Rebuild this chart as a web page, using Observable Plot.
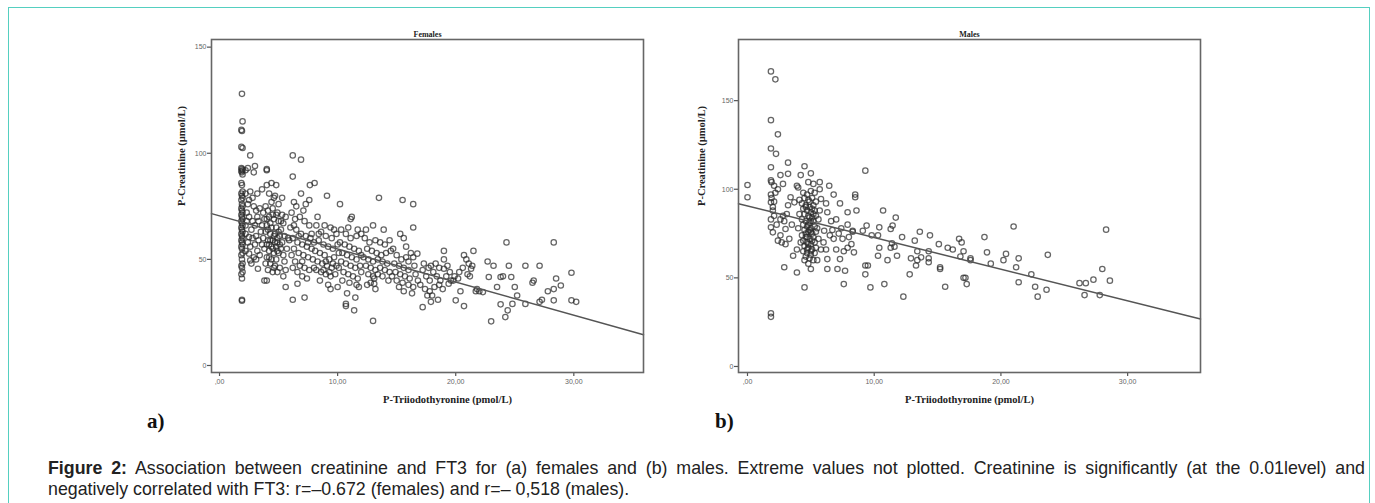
<!DOCTYPE html>
<html>
<head>
<meta charset="utf-8">
<script src="https://cdn.jsdelivr.net/npm/d3@7"></script>
<script src="https://cdn.jsdelivr.net/npm/@observablehq/plot@0.6"></script>
<style>
  html, body { margin: 0; padding: 0; background: #fff; width: 1375px; height: 503px; overflow: hidden; }
  #box { position: absolute; left: 8px; top: 7px; width: 1362px; height: 520px; border: 1.5px solid #55cfc0; box-sizing: border-box; }
  .panel { position: absolute; top: 20px; }
  .tag { position: absolute; top: 409px; font-family: "Liberation Serif", "DejaVu Serif", serif; font-weight: bold; font-size: 21px; color: #111; }
  #caption { position: absolute; left: 48px; top: 458px; width: 1317px; font-family: "Liberation Sans", Arial, sans-serif; font-size: 17.8px; line-height: 21px; color: #222; }
  #caption .l1 { text-align: justify; text-align-last: justify; }
</style>
</head>
<body>
<div id="box"></div>
<div id="left" class="panel" style="left:150px"></div>
<div id="right" class="panel" style="left:690px"></div>
<div class="tag" style="left:147px">a)</div>
<div class="tag" style="left:715px">b)</div>
<div id="caption">
  <div class="l1"><b>Figure 2:</b> Association between creatinine and FT3 for (a) females and (b) males. Extreme values not plotted. Creatinine is significantly (at the 0.01level) and</div>
  <div class="l2">negatively correlated with FT3: r=–0.672 (females) and r=– 0,518 (males).</div>
</div>
<script>
// ---- Data ----
const panelTitles = ["Females", "Males"];
const xLabel = "P-Triiodothyronine (pmol/L)";
const yLabel = "P-Creatinine (µmol/L)";
const xTicks = [0, 10, 20, 30];
const yTicks = [0, 50, 100, 150];
// regression lines: [intercept, slope]
const femaleFit = [70.5, -1.56];
const maleFit = [90.6, -1.786];

const femalePoints = [
  [1.9,128],[1.95,115],[1.85,111],[1.9,110.5],[1.85,103],[1.95,102.5],[1.85,93],[1.9,92.5],[1.95,92],[1.85,91.5],[1.9,91],[1.95,90],
  [1.85,86],[1.9,85],[1.95,82],[1.85,81],[1.9,80],[1.95,79],[1.85,78],[1.9,76],[1.95,75],[1.85,74],[1.9,73],[1.95,72],[1.85,71],
  [1.9,70],[1.95,69],[1.85,68],[1.9,67],[1.95,66],[1.85,65],[1.9,64],[1.95,63],[1.85,62],[1.9,61],[1.95,60],[1.85,59],[1.9,58],
  [1.95,57],[1.85,56],[1.9,55],[1.95,53],[1.85,52],[1.9,50],[1.95,48],[1.85,47],[1.9,46],[1.95,44],[1.85,43],[1.9,41],[1.9,31],[1.9,30.5],
  [2.2,92],[2.4,93],[2.6,99],[3.0,94],[2.9,91],[2.2,81],[2.6,82],[3.2,81],[2.5,78],[2.9,75],[2.3,68],[2.8,68],[3.2,70],[2.5,60.5],
  [3.1,61],[2.6,56],[3.2,54],[2.5,52.7],[3.25,45.6],[2.6,49.5],[2.9,51],[2.3,72],[2.7,64],[3.0,66],[3.3,59],[2.4,58],[3.4,74],
  [2.8,79],[3.5,63],[3.4,52],[2.2,62],[3.0,57],[2.7,48],[3.3,68],[2.4,76],[3.1,50],[2.2,54],[2.2,66],[2.5,70],[2.8,60],[3.1,73],
  [4.0,92.5],[4.0,92],[4.0,85],[4.8,85],[4.2,81],[4.6,79],[3.9,75],[4.7,80],[5.0,76],[4.4,77],[3.7,72],[4.1,73],[4.5,74],[4.9,72],
  [5.3,71],[3.8,69],[4.2,70],[4.6,69],[5.0,68],[5.4,67],[3.6,66],[4.0,66],[4.4,65],[4.8,65],[5.2,64],[3.9,63],[4.3,62],[4.7,62],
  [5.1,61],[5.5,61],[3.7,60],[4.1,59],[4.5,59],[4.9,58],[5.3,58],[4.0,57],[4.4,56],[4.8,56],[5.2,55],[3.8,55],[4.2,54],[4.6,53],
  [5.0,53],[5.4,52],[4.0,51],[4.4,50],[4.8,50],[4.3,48],[4.7,47],[5.1,46],[4.1,45],[4.5,44],[4.9,44],[5.6,45],[3.8,40],[4.0,40],
  [5.6,37],[5.4,42],[4.6,46],[5.0,63],[4.3,67],[4.5,71],[4.9,60],[4.2,57],[3.6,57],[5.7,55],[5.6,70],[5.8,60],[5.5,49],[4.4,86],
  [3.6,83],[5.3,79],[4.1,64],[4.3,59],[4.5,55],[4.7,58],[4.9,54],[5.1,57],[4.2,51],[4.6,61],[4.8,71],[4.0,69],[5.2,68],[3.9,48],
  [6.2,99],[6.9,97],[6.2,89],[6.9,81],[6.3,77],[7.3,76],[7.6,78],[7.65,85],[8.05,86],[6.2,31],[7.2,32],[6.6,38.5],[6.1,72],[6.4,69],
  [6.8,70],[7.2,68],[7.6,66],[6.0,65],[6.5,64],[6.9,62],[7.3,61],[7.7,60],[6.2,60],[6.6,58],[7.0,57],[7.4,56],[7.8,55],[6.3,55],
  [6.7,53],[7.1,52],[7.5,51],[7.9,50],[6.1,52],[6.4,49],[6.8,47],[7.2,46],[7.6,45],[6.6,44],[7.0,42],[7.4,41],[6.2,46],[7.8,62],
  [8.0,58],[7.1,73],[6.5,75],[5.9,59],[6.3,66],[6.7,61],[7.0,49],[7.5,58],
  [9.1,80],[10.2,76],[8.3,70],[9.4,65],[8.2,66],[8.6,63],[9.0,61],[9.5,60],[9.9,62],[8.4,59],[8.8,57],[9.2,56],[9.6,55],[10.0,57],
  [8.1,54],[8.5,53],[8.9,52],[9.3,50],[9.7,51],[8.3,49],[8.7,48],[9.1,47],[9.5,46],[9.9,47],[8.2,45],[8.6,44],[9.0,43],[9.4,42],
  [9.8,43],[8.5,40],[9.2,38],[9.4,36],[10.0,37],[8.9,66],[9.7,64],[8.0,46],[10.1,53],[8.4,62],[8.8,45],[9.3,44],[9.0,49],[9.6,48],
  [11.2,70],[11.1,69],[10.7,29],[10.7,28],[11.4,26],[10.8,34],[11.5,32],[10.3,64],[10.7,62],[11.1,60],[11.6,61],[10.2,58],[10.6,57],
  [11.0,56],[11.4,55],[11.8,54],[10.4,53],[10.8,52],[11.2,51],[11.6,50],[12.0,52],[10.3,49],[10.7,48],[11.1,47],[11.5,46],[11.9,47],
  [10.5,44],[10.9,43],[11.3,42],[11.7,41],[12.0,44],[11.0,39],[11.6,38],[11.8,37],[10.4,40],[10.1,46],[12.0,62],[11.7,64],[10.9,65],
  [13.0,21],[13.5,79],[13.0,66],[13.9,64],[12.4,64],[13.1,41],[13.1,38.5],[12.3,60],[12.7,58],[13.2,59],[13.6,58],[14.0,57],[14.4,59],
  [12.5,55],[12.9,54],[13.3,53],[13.7,52],[14.1,53],[12.2,51],[12.6,50],[13.0,49],[13.4,50],[13.8,49],[14.2,48],[12.4,47],[12.8,46],
  [13.2,45],[13.6,46],[14.0,45],[14.4,44],[12.6,43],[13.0,42],[13.4,43],[13.8,42],[14.3,40],[12.5,38],[12.8,39],[13.2,36],[14.5,54],
  [15.5,78],[16.4,76],[16.4,65],[15.3,62],[15.6,60],[15.8,56],[15.8,51],[15.2,37],[15.6,35],[14.7,55],[15.0,52],[15.4,50],[16.0,49],
  [16.4,51],[14.8,48],[15.2,47],[15.6,46],[16.0,45],[16.5,47],[14.9,44],[15.3,43],[15.7,42],[16.1,41],[16.6,43],[15.0,40],[15.5,39],
  [16.0,38],[16.4,37],[14.6,42],[16.8,40],[16.2,53],[16.3,34],
  [16.75,52.7],[17.2,27.5],[17.9,30],[17.7,46],[19.0,54],[19.0,50],[19.0,45.6],[19.6,40],[19.4,38.5],[17.2,45],[17.5,42],[17.8,40],
  [18.1,44],[18.4,42],[18.7,40],[17.0,38],[17.4,36],[17.8,35],[18.2,37],[18.6,38],[18.9,36],[17.3,48],[17.9,47],[18.3,48],[18.6,46],
  [19.2,42],[19.5,44],[19.8,40],[18.0,33],[17.6,33],[19.3,47],[18.5,31],[19.9,42],
  [20.0,30.7],[20.7,28],[20.4,35],[20.7,52],[21.1,48],[21.5,54],[21.3,45.6],[21.7,35],[22.3,34.6],[22.7,49],[22.8,41.7],[23.0,20.8],
  [23.2,47],[23.5,37],[23.8,41.7],[23.8,28.8],[24.3,58],[24.4,26],[24.2,22.8],[24.5,47],[24.7,41.7],[24.8,29],[25.0,37],[25.2,33],
  [25.9,47],[25.9,29],[26.5,39],[27.1,47],[27.1,30],[27.3,31],[27.8,35],[28.3,36],[28.3,58],[28.5,41],[28.3,30.7],[28.9,37.7],
  [29.8,43.7],[29.8,30.7],[30.2,30],[20.3,44],[20.6,46],[21.0,43],[20.2,41],[21.4,47],[21.8,36],[22.0,35],[24.0,42],[20.9,50],
  [21.2,42],[26.6,40]
];

const malePoints = [
  [0.0,102.4],[0.0,95.5],
  [1.85,166.5],[2.2,162],[1.85,139],[2.4,131],[1.85,123],[2.25,120],[1.85,112.4],[1.85,105],[1.9,104],[2.1,102],[2.4,100],[2.6,108],
  [1.85,97],[1.85,92.6],[2.0,90],[1.85,83],[2.1,85],[1.85,78.5],[2.0,75.7],[1.85,30],[1.85,28],[2.4,71],[2.6,74],[2.8,85],[2.9,82],
  [3.0,77.6],[3.2,115],[3.2,91],[3.4,95.5],[2.9,56],[3.0,69],[3.2,108.7],[2.8,103],[1.9,95],[2.2,98],[2.0,88],[2.3,80],[2.6,83],
  [2.7,70],[3.3,72],[3.5,80],[2.1,93],[3.1,86],
  [4.5,113],[4.2,108],[5.0,109],[3.9,102],[5.7,104],[3.7,92.6],[3.9,53],[4.5,44.6],[5.0,55],[3.6,62.5],[5.7,100],[5.8,94.5],
  [4.4,98],[4.7,97],[5.0,99],[5.3,98],[4.5,95],[4.8,94],[5.1,95],[5.4,93],[4.3,92],[4.6,91],[4.9,90],[5.2,91],[4.4,89],[4.7,88],
  [5.0,87],[5.3,88],[4.5,86],[4.8,85],[5.1,84],[5.4,85],[4.3,83],[4.6,82],[4.9,81],[5.2,82],[4.4,80],[4.7,79],[5.0,78],[5.3,79],
  [4.5,77],[4.8,76],[5.1,75],[5.4,76],[4.3,74],[4.6,73],[4.9,72],[5.2,73],[4.4,71],[4.7,70],[5.0,69],[5.3,70],[4.5,68],[4.8,67],
  [5.1,66],[5.4,67],[4.4,65],[4.7,64],[5.0,63],[5.3,64],[4.6,62],[4.9,61],[5.2,60],[4.5,60],[4.8,58],[5.5,60],[4.1,86],[4.0,78],
  [4.2,70],[3.9,66],[4.1,94],[5.6,83],[5.6,72],[5.7,88],[5.5,78],[5.8,66],[4.0,101],[4.8,104],[5.2,103],[4.6,90],[4.9,84],[5.0,76],
  [4.7,66],[5.1,71],[4.8,80],[4.9,93],[5.2,86],[4.6,75],[4.9,77],[5.0,82],[4.7,73],[5.1,89],[4.8,69],[5.0,65],
  [6.45,102],[6.8,97],[6.3,55],[6.3,60.6],[6.2,66],[6.3,87],[7.0,83],[7.3,92],[7.3,60.6],[7.1,55],[7.6,46.5],[7.7,54],[7.9,87],
  [7.9,80],[8.3,76.6],[8.5,97],[8.5,95.5],[8.6,88],[8.4,64.4],[8.2,69],[7.5,72],[7.6,65],[6.8,72],[7.2,75],[7.9,67],[7.0,66],
  [6.5,74],[6.6,82],[6.05,76.6],[6.2,92],[6.7,77],[8.0,73],[8.3,76],[6.0,70],[7.4,78],
  [9.3,110.5],[9.4,79.5],[9.1,76.6],[9.3,57],[9.5,57],[9.3,52],[9.7,44.6],[10.3,62.5],[10.4,67],[10.3,74],[10.4,78.5],[10.7,88],
  [10.8,46.5],[11.05,60],[11.3,67],[11.3,77.6],[11.45,79.5],[11.7,84],[11.8,62.5],[11.6,67.6],[11.4,69.5],[9.8,74],
  [12.2,73],[12.8,52],[12.3,39.4],[12.9,61],[13.2,71],[13.4,65],[13.4,60],[13.3,57],[13.6,76],[13.7,61.6],[14.3,61],[14.3,65],
  [14.4,74],[14.3,58.8],[15.1,69],[15.2,56],[15.2,55],[15.6,45],[15.8,67],[16.2,66],
  [16.7,72],[16.9,70],[16.8,62],[17.05,65],[17.05,50],[17.2,50],[17.3,46.5],[17.6,61],[17.6,60],[18.7,73],[18.9,64.4],[19.2,58],
  [20.2,60],[20.4,63.5],[21.0,79],[21.2,56],[21.4,61],[21.4,47.5],[22.4,52],[22.7,45],[22.9,39.4],[23.6,43.3],[23.7,63],
  [26.2,47],[26.6,40.3],[26.7,47],[27.3,49],[27.8,40.3],[28.0,55],[28.3,77.2],[28.6,48.4]
];

const fmtX = d => d === 0 ? ",00" : d.toFixed(2).replace(".", ",");

function panel({points, fit, title, xDomain, yDomain, width, margins, xLabelDx, yLabelDx}) {
  const lineData = xDomain.map(x => ({x, y: fit[0] + fit[1] * x}));
  return Plot.plot({
    width, height: 400,
    marginLeft: margins[0], marginRight: margins[1], marginTop: margins[2], marginBottom: margins[3],
    style: {fontFamily: "'Liberation Sans', Arial, sans-serif", fontSize: "7px", color: "#666", background: "transparent"},
    x: {domain: xDomain},
    y: {domain: yDomain},
    marks: [
      Plot.axisX({ticks: xTicks, tickFormat: fmtX, tickSize: 4, tickPadding: 3, label: null, stroke: "#555", strokeWidth: 1.2}),
      Plot.axisY({ticks: yTicks, tickFormat: d => String(d), tickSize: 4, tickPadding: 1, label: null, stroke: "#555", strokeWidth: 1.2}),
      Plot.dot(points, {x: d => d[0], y: d => d[1], r: 2.7, stroke: "#2a2a2a", strokeWidth: 1.25, strokeOpacity: 0.72, fill: "none"}),
      Plot.line(lineData, {x: "x", y: "y", stroke: "#555", strokeWidth: 1.5}),
      Plot.frame({stroke: "#666", strokeWidth: 1.6}),
      Plot.text([title], {frameAnchor: "top", dy: -8, fontFamily: "'Liberation Serif', serif", fontWeight: "bold", fontSize: 8, fill: "#222"}),
      Plot.text([xLabel], {frameAnchor: "bottom", dy: 30, dx: xLabelDx, fontFamily: "'Liberation Serif', serif", fontWeight: "bold", fontSize: 10.5, fill: "#222"}),
      Plot.text([yLabel], {frameAnchor: "left", dx: yLabelDx, rotate: -90, fontFamily: "'Liberation Serif', serif", fontWeight: "bold", fontSize: 10.5, fill: "#222"})
    ]
  });
}

document.getElementById("left").appendChild(panel({
  points: femalePoints, fit: femaleFit, title: panelTitles[0],
  xDomain: [-0.68, 35.9], yDomain: [-3.3, 153.6], width: 520,
  margins: [61, 27, 19, 48], xLabelDx: 20, yLabelDx: -30
}));
document.getElementById("right").appendChild(panel({
  points: malePoints, fit: maleFit, title: panelTitles[1],
  xDomain: [-0.71, 35.75], yDomain: [-3.4, 184.5], width: 530,
  margins: [48, 20, 19, 48], xLabelDx: 0, yLabelDx: -37
}));
</script>
</body>
</html>
